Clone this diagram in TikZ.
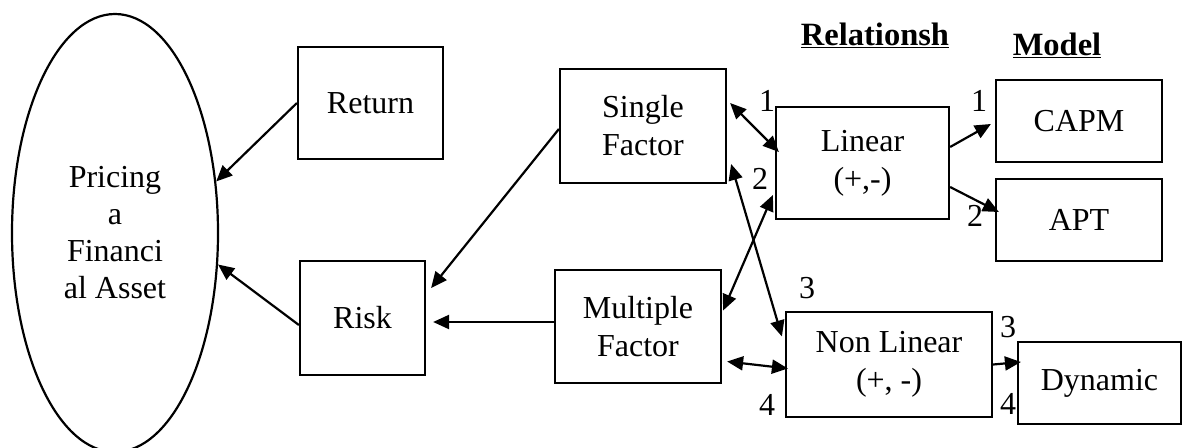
\documentclass[tikz,border=0pt]{standalone}
\usepackage{fontspec}
\setmainfont{Liberation Serif}
\usetikzlibrary{shapes.geometric,arrows.meta}
\tikzset{
  box/.style={draw,line width=2.2pt,inner sep=0pt,align=center,font=\fontsize{32}{38}\selectfont},
  num/.style={inner sep=0pt,font=\fontsize{32}{38}\selectfont},
  head/.style={inner sep=0pt,anchor=base,font=\fontsize{32.5}{38}\selectfont\bfseries},
  link/.style={line width=2.2pt,-{Triangle[length=16pt,width=14pt]}},
  both/.style={line width=2.2pt,{Triangle[length=16pt,width=14pt]}-{Triangle[length=16pt,width=14pt]}}
}
\begin{document}
\begin{tikzpicture}[x=1pt,y=-1pt]
    \useasboundingbox (0,0) rectangle (1182,447);
    \node[draw,ellipse,line width=2.2pt,minimum width=206pt,minimum height=438pt,inner sep=0pt,align=center,font=\fontsize{32}{37}\selectfont] (asset) at (115,233) {Pricing\\a\\Financi\\al Asset};
    \node[box,minimum width=145pt,minimum height=112pt] (ret) at (370.5,103) {Return};
    \node[box,minimum width=125pt,minimum height=114pt] (risk) at (362.5,318) {Risk};
    \node[box,minimum width=166pt,minimum height=114pt] (single) at (643,126) {Single\\Factor};
    \node[box,minimum width=166pt,minimum height=113pt] (multi) at (638,326.5) {Multiple\\Factor};
    \node[box,minimum width=173pt,minimum height=112pt] (lin) at (862.5,163) {Linear\\(+,-)};
    \node[box,minimum width=206pt,minimum height=105pt] (nonlin) at (889,364.5) {Non Linear\\(+, -)};
    \node[box,minimum width=166pt,minimum height=82pt] (capm) at (1079,121) {CAPM};
    \node[box,minimum width=166pt,minimum height=82pt] (apt) at (1079,220) {APT};
    \node[box,minimum width=163pt,minimum height=82pt] (dyn) at (1099.5,383) {Dynamic};
    \node[head] (rel) at (875,45) {\underline{Relationsh}};
    \node[head] (model) at (1057,55) {\underline{Model}};
    \node[num] (la) at (767,101) {1};
    \node[num] (lb) at (760,179) {2};
    \node[num] (lc) at (807,288) {3};
    \node[num] (ld) at (767,405) {4};
    \node[num] (ma) at (979,101) {1};
    \node[num] (mb) at (975,216) {2};
    \node[num] (mc) at (1008,327) {3};
    \node[num] (md) at (1008,404) {4};
    \draw[link] (ret.west) -- (asset.27);
    \draw[link] ([yshift=-7pt]risk.west) -- (asset.-17);
    \draw[link] ([yshift=-3pt]single.west) -- ([xshift=5pt,yshift=30pt]risk.east);
    \draw[link] ([yshift=4.5pt]multi.west) -- ([xshift=7pt,yshift=-4pt]risk.east);
    \draw[both] ([xshift=3pt,yshift=23pt]single.east) -- ([xshift=4pt,yshift=11pt]lin.west);
    \draw[both] ([xshift=4pt,yshift=-38pt]single.east) -- ([xshift=-3pt,yshift=28pt]nonlin.west);
    \draw[both] ([xshift=1pt,yshift=16pt]multi.east) -- ([xshift=-2pt,yshift=-32pt]lin.west);
    \draw[both] ([xshift=5pt,yshift=-35pt]multi.east) -- ([xshift=3pt,yshift=-4pt]nonlin.west);
    \draw[link] ([yshift=16pt]lin.east) -- ([xshift=-4pt,yshift=-3pt]capm.west);
    \draw[link] ([yshift=-24pt]lin.east) -- ([xshift=4pt,yshift=8pt]apt.west);
    \draw[link] (nonlin.east) -- ([xshift=4pt,yshift=21pt]dyn.west);
\end{tikzpicture}
\end{document}
